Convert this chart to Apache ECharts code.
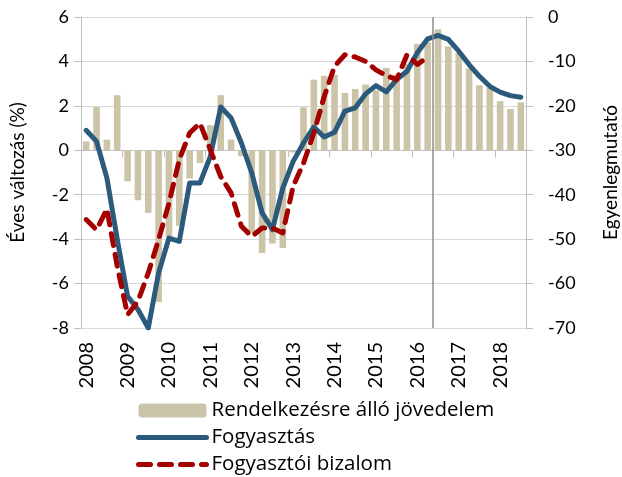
<!DOCTYPE html>
<html>
<head>
<meta charset="utf-8">
<script src="https://cdn.jsdelivr.net/npm/echarts@6/dist/echarts.min.js"></script>
<style>
  html, body { margin: 0; padding: 0; background: #fff; }
  #main { width: 622px; height: 477px; }
</style>
</head>
<body>
<div id="main"></div>
<script>
const quarters = [
  '2008 Q1', '2008 Q2', '2008 Q3', '2008 Q4',
  '2009 Q1', '2009 Q2', '2009 Q3', '2009 Q4',
  '2010 Q1', '2010 Q2', '2010 Q3', '2010 Q4',
  '2011 Q1', '2011 Q2', '2011 Q3', '2011 Q4',
  '2012 Q1', '2012 Q2', '2012 Q3', '2012 Q4',
  '2013 Q1', '2013 Q2', '2013 Q3', '2013 Q4',
  '2014 Q1', '2014 Q2', '2014 Q3', '2014 Q4',
  '2015 Q1', '2015 Q2', '2015 Q3', '2015 Q4',
  '2016 Q1', '2016 Q2', '2016 Q3', '2016 Q4',
  '2017 Q1', '2017 Q2', '2017 Q3', '2017 Q4',
  '2018 Q1', '2018 Q2', '2018 Q3'
];

// Rendelkezésre álló jövedelem (bal tengely, %)
const income = [
  0.4, 1.95, 0.48, 2.48,
  -1.4, -2.25, -2.82, -6.83,
  -3.9, -3.4, -1.27, -0.57,
  1.13, 2.48, 0.48, -0.27,
  -3.7, -4.62, -4.2, -4.4,
  -0.1, 1.94, 3.18, 3.35,
  3.4, 2.58, 2.76, 2.96,
  2.7, 3.71, 3.4, 3.9,
  4.79, 4.86, 5.45, 4.68,
  4.38, 3.68, 2.93, 2.81,
  2.21, 1.86, 2.16
];

// Fogyasztás (bal tengely, %)
const consumption = [
  0.9, 0.4, -1.24, -4.0,
  -6.57, -7.17, -8.0, -5.52,
  -3.95, -4.1, -1.47, -1.47,
  -0.27, 1.95, 1.46, 0.33,
  -1.02, -2.82, -3.57, -1.7,
  -0.5, 0.33, 1.04, 0.6,
  0.81, 1.76, 1.91, 2.54,
  2.91, 2.63, 3.18, 3.56,
  4.39, 5.02, 5.17, 4.99,
  4.46, 3.86, 3.33, 2.88,
  2.62, 2.46, 2.39
];

// Fogyasztói bizalom (jobb tengely, egyenlegmutató)
const confidence = [
  -45.6, -47.9, -43.2, -56.1,
  -67.0, -64.0, -57.6, -50.1,
  -41.9, -32.1, -26.1, -23.9,
  -29.9, -35.9, -39.6, -47.1,
  -49.4, -47.5, -47.5, -48.6,
  -38.1, -32.9, -26.1, -17.9,
  -11.1, -8.5, -9.0, -10.0,
  -11.9, -13.2, -14.1, -8.5,
  -10.7, -9.0
];

// függőleges elválasztó vonal helye (negyedévhatár)
const dividerPos = 34;

const font = 'Lato, "Open Sans", sans-serif';
const legendFont = '"Open Sans", Lato, sans-serif';
const gridColor = '#d9d9d9';
const axisColor = '#bfbfbf';
const incomeColor = '#ccc4a8';
const consColor = '#2b5a7d';
const confColor = '#a50000';

const option = {
  animation: false,
  textStyle: { fontFamily: font },
  grid: { left: 81, right: 96, top: 17, bottom: 149, outerBoundsMode: 'none', containLabel: false },
  legend: {
    orient: 'vertical',
    left: 136,
    top: 400,
    padding: 0,
    height: 77,
    itemWidth: 68,
    itemHeight: 14,
    itemGap: 6,
    textStyle: { fontSize: 20.5, color: '#000', fontFamily: legendFont, padding: [0, 0, 0, 0] },
    data: [
      { name: 'Rendelkezésre álló jövedelem' },
      { name: 'Fogyasztás', itemStyle: { opacity: 0 }, lineStyle: { width: 5, color: consColor } },
      { name: 'Fogyasztói bizalom', itemStyle: { opacity: 0 }, lineStyle: { width: 5, color: confColor, type: [12, 9] } }
    ]
  },
  xAxis: [
    {
      type: 'category',
      data: quarters,
      position: 'bottom',
      axisLine: { show: false },
      axisTick: { show: false },
      splitLine: { show: false },
      axisLabel: {
        interval: 3,
        rotate: 90,
        margin: 14,
        fontSize: 20,
        color: '#000',
        fontFamily: font,
        formatter: v => v.slice(0, 4)
      }
    },
    {
      type: 'category',
      data: quarters,
      position: 'bottom',
      axisLine: { show: true, onZero: true, onZeroAxisIndex: 0, lineStyle: { color: axisColor, width: 1 } },
      axisTick: { show: true, interval: 3, length: 7, lineStyle: { color: axisColor } },
      axisLabel: { show: false },
      splitLine: { show: false }
    },
    {
      type: 'value',
      min: 0,
      max: quarters.length,
      show: false
    }
  ],
  yAxis: [
    {
      type: 'value',
      min: -8,
      max: 6,
      interval: 2,
      name: 'Éves változás (%)',
      nameLocation: 'middle',
      nameGap: 54,
      nameTextStyle: { fontSize: 19, color: '#000', fontFamily: font },
      axisLine: { show: true, lineStyle: { color: axisColor } },
      axisTick: { show: true, length: 7, lineStyle: { color: axisColor } },
      axisLabel: { fontSize: 18, color: '#000', margin: 12, fontFamily: font },
      splitLine: { show: true, lineStyle: { color: gridColor, width: 1 } }
    },
    {
      type: 'value',
      min: -70,
      max: 0,
      interval: 10,
      name: 'Egyenlegmutató',
      nameLocation: 'middle',
      nameGap: 75,
      nameTextStyle: { fontSize: 19, color: '#000', fontFamily: font },
      axisLine: { show: true, lineStyle: { color: axisColor } },
      axisTick: { show: true, length: 7, lineStyle: { color: axisColor } },
      axisLabel: { fontSize: 18, color: '#000', margin: 22, fontFamily: font },
      splitLine: { show: false }
    }
  ],
  series: [
    {
      name: 'Rendelkezésre álló jövedelem',
      type: 'bar',
      xAxisIndex: 0,
      yAxisIndex: 0,
      data: income,
      barCategoryGap: '36%',
      itemStyle: { color: incomeColor }
    },
    {
      name: 'Fogyasztás',
      type: 'line',
      xAxisIndex: 0,
      yAxisIndex: 0,
      data: consumption,
      symbol: 'none',
      lineStyle: { color: consColor, width: 5, join: 'round', cap: 'round' },
      itemStyle: { color: consColor },
      z: 4
    },
    {
      name: 'Fogyasztói bizalom',
      type: 'line',
      xAxisIndex: 0,
      yAxisIndex: 1,
      data: confidence,
      symbol: 'none',
      lineStyle: { color: confColor, width: 5, type: [12, 9], cap: 'round', join: 'round' },
      itemStyle: { color: confColor },
      z: 5
    },
    {
      name: 'divider',
      type: 'line',
      xAxisIndex: 2,
      yAxisIndex: 0,
      data: [],
      silent: true,
      markLine: {
        silent: true,
        symbol: 'none',
        label: { show: false },
        lineStyle: { color: '#8c8c8c', width: 1.5, type: 'solid' },
        data: [{ xAxis: dividerPos }]
      },
      z: 3
    }
  ]
};

const myChart = echarts.init(document.getElementById('main'));
myChart.setOption(option);
</script>
</body>
</html>
